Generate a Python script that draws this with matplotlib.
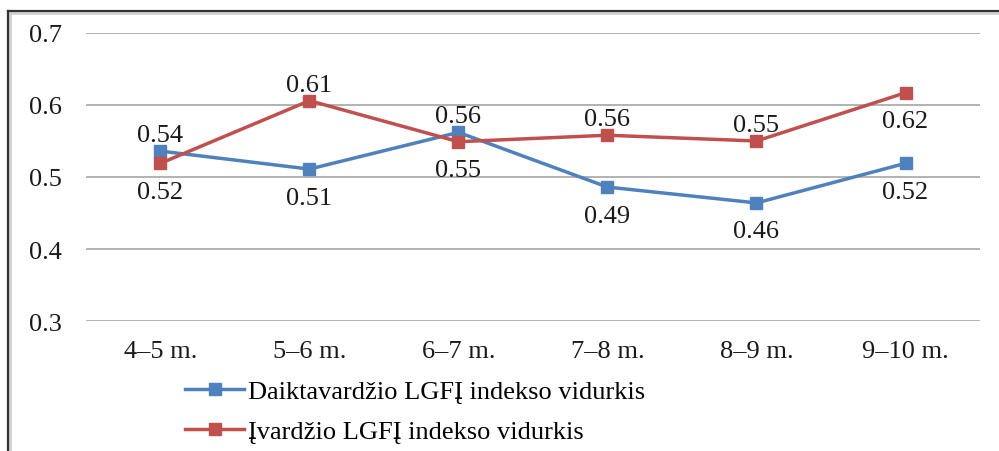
import matplotlib
matplotlib.use("Agg")
import matplotlib.pyplot as plt
from matplotlib.lines import Line2D

categories = ["4–5 m.", "5–6 m.", "6–7 m.", "7–8 m.", "8–9 m.", "9–10 m."]
daikt = [0.536, 0.511, 0.562, 0.486, 0.464, 0.519]
ivard = [0.519, 0.606, 0.549, 0.558, 0.550, 0.617]
daikt_labels = ["0.54", "0.51", "0.56", "0.49", "0.46", "0.52"]
ivard_labels = ["0.52", "0.61", "0.55", "0.56", "0.55", "0.62"]
daikt_pos = ["above", "below", "above", "below", "below", "below"]
ivard_pos = ["below", "above", "below", "above", "above", "below"]
yticks = [0.3, 0.4, 0.5, 0.6, 0.7]
series_names = ["Daiktavardžio LGFĮ indekso vidurkis", "Įvardžio LGFĮ indekso vidurkis"]

plt.rcParams['font.family'] = ['Liberation Serif', 'DejaVu Serif']
FS = 19

fig = plt.figure(figsize=(9.99, 4.52), dpi=100)
ax = fig.add_axes([0.086, 0.2876, 0.895, 0.6372])

blue = "#4F81BD"
red = "#C0504D"
x = list(range(len(categories)))
l1, = ax.plot(x, daikt, color=blue, lw=2.5, marker='s', ms=8.5, label=series_names[0], zorder=3)
l2, = ax.plot(x, ivard, color=red, lw=2.5, marker='s', ms=8.5, label=series_names[1], zorder=3)

for xs, vals, labs, pos in [(x, daikt, daikt_labels, daikt_pos), (x, ivard, ivard_labels, ivard_pos)]:
    for xi, v, lab, p in zip(xs, vals, labs, pos):
        off = 11.5 if p == "above" else -20.5
        ax.annotate(lab, (xi, v), xytext=(0, off), textcoords='offset points',
                    ha='center', va='center', fontsize=FS, color='#1a1a1a')

ax.set_xlim(-0.5, len(categories) - 0.5)
ax.set_ylim(0.3, 0.7)
ax.set_yticks(yticks)
ax.set_yticklabels([f"{t:.1f}" for t in yticks])
ax.set_xticks(x)
ax.set_xticklabels(categories)
ax.tick_params(axis='both', length=0, labelsize=FS, colors='#1a1a1a')
ax.tick_params(axis='y', pad=17)
ax.tick_params(axis='x', pad=13.5)
ax.yaxis.grid(True, color='#A6A6A6', lw=1.2)
ax.set_axisbelow(True)
for s in ax.spines.values():
    s.set_visible(False)

fig.legend(handles=[l1, l2], loc='upper left', bbox_to_anchor=(0.185, 0.158),
           frameon=False, fontsize=FS, handlelength=2.25, handletextpad=0.15,
           labelspacing=0.62, borderaxespad=0, borderpad=0)

# frame (left and top edges)
fig.add_artist(Line2D([10/999, 10/999], [0, 1 - 13/452], transform=fig.transFigure, color='#d0d0d0', lw=2))
fig.add_artist(Line2D([10/999, 1], [1 - 14/452, 1 - 14/452], transform=fig.transFigure, color='#d0d0d0', lw=2))
fig.add_artist(Line2D([8/999, 8/999], [0, 1 - 11.5/452], transform=fig.transFigure, color='#333333', lw=1.6))
fig.add_artist(Line2D([8/999, 1], [1 - 12/452, 1 - 12/452], transform=fig.transFigure, color='#333333', lw=1.6))

fig.savefig("out.png", dpi=100)
